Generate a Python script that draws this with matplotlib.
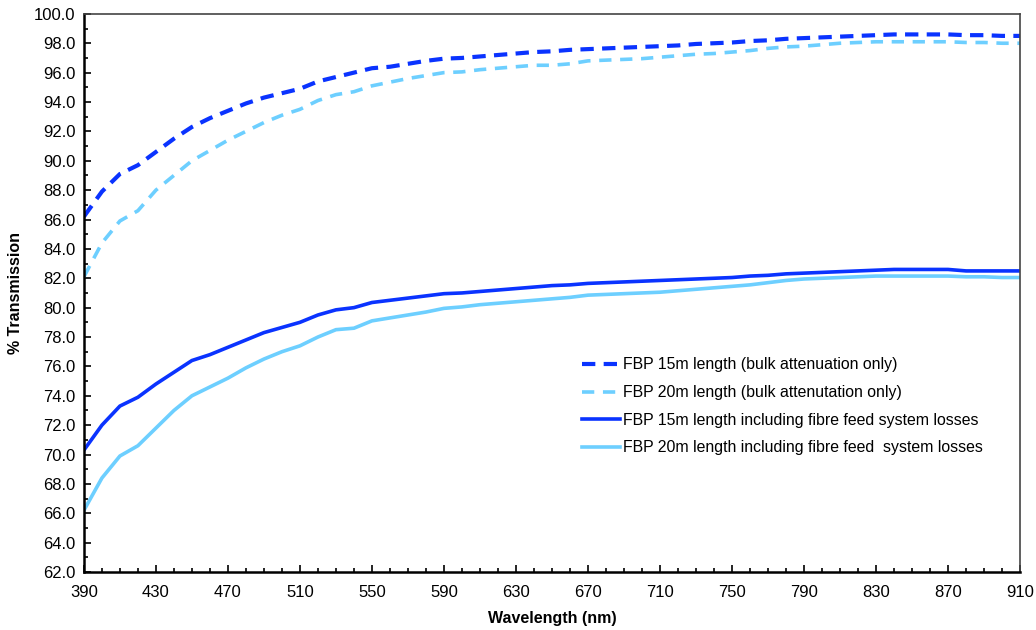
import numpy as np
import matplotlib
matplotlib.use('Agg')
import matplotlib.pyplot as plt
from matplotlib.ticker import MultipleLocator, FormatStrFormatter

plt.rcParams['font.family'] = ['Liberation Sans', 'DejaVu Sans']

wavelength = list(range(390, 911, 10))

# 15m, bulk attenuation only
bulk15 = [86.2, 87.9, 89.1, 89.7, 90.6, 91.5, 92.3, 92.9, 93.4, 93.9,
          94.3, 94.6, 94.9, 95.4, 95.7, 96.0, 96.3, 96.4, 96.6, 96.8,
          96.95, 97.0, 97.1, 97.2, 97.3, 97.4, 97.45, 97.55, 97.6, 97.65,
          97.7, 97.75, 97.8, 97.85, 97.95, 98.0, 98.05, 98.15, 98.2, 98.3,
          98.35, 98.4, 98.45, 98.5, 98.55, 98.6, 98.6, 98.6, 98.6, 98.55,
          98.55, 98.5, 98.5]
# 20m, bulk attenuation only
bulk20 = [82.1, 84.4, 85.9, 86.6, 88.0, 89.0, 90.0, 90.7, 91.4, 92.0,
          92.6, 93.1, 93.5, 94.1, 94.5, 94.7, 95.1, 95.35, 95.6, 95.8,
          96.0, 96.05, 96.2, 96.3, 96.4, 96.5, 96.5, 96.6, 96.8, 96.85,
          96.9, 96.95, 97.05, 97.15, 97.25, 97.3, 97.4, 97.5, 97.65, 97.75,
          97.8, 97.9, 98.0, 98.05, 98.1, 98.1, 98.1, 98.1, 98.1, 98.05,
          98.05, 98.0, 98.0]
# 15m incl. fibre feed system losses
feed15 = [70.3, 72.0, 73.3, 73.9, 74.8, 75.6, 76.4, 76.8, 77.3, 77.8,
          78.3, 78.65, 79.0, 79.5, 79.85, 80.0, 80.35, 80.5, 80.65, 80.8,
          80.95, 81.0, 81.1, 81.2, 81.3, 81.4, 81.5, 81.55, 81.65, 81.7,
          81.75, 81.8, 81.85, 81.9, 81.95, 82.0, 82.05, 82.15, 82.2, 82.3,
          82.35, 82.4, 82.45, 82.5, 82.55, 82.6, 82.6, 82.6, 82.6, 82.5,
          82.5, 82.5, 82.5]
# 20m incl. fibre feed system losses
feed20 = [66.2, 68.4, 69.9, 70.6, 71.8, 73.0, 74.0, 74.6, 75.2, 75.9,
          76.5, 77.0, 77.4, 78.0, 78.5, 78.6, 79.1, 79.3, 79.5, 79.7,
          79.95, 80.05, 80.2, 80.3, 80.4, 80.5, 80.6, 80.7, 80.85, 80.9,
          80.95, 81.0, 81.05, 81.15, 81.25, 81.35, 81.45, 81.55, 81.7, 81.85,
          81.95, 82.0, 82.05, 82.1, 82.15, 82.15, 82.15, 82.15, 82.15, 82.1,
          82.1, 82.05, 82.05]

labels = ['FBP 15m length (bulk attenuation only)',
          'FBP 20m length (bulk attenutation only)',
          'FBP 15m length including fibre feed system losses',
          'FBP 20m length including fibre feed  system losses']

xticks = list(range(390, 911, 40))

escuro = '#0a33ff'
claro = '#6dcfff'

fig = plt.figure(figsize=(10.36, 6.30), dpi=100)
ax = fig.add_axes([0.081, 0.092, 0.9036, 0.886])

ax.plot(wavelength, bulk15, color=escuro, lw=3.0, dashes=(3.2, 2.0), label=labels[0])
ax.plot(wavelength, bulk20, color=claro, lw=2.6, dashes=(3.4, 2.4), label=labels[1])
ax.plot(wavelength, feed15, color=escuro, lw=2.6, label=labels[2])
ax.plot(wavelength, feed20, color=claro, lw=2.6, label=labels[3])

ax.set_xlim(390, 910)
ax.set_ylim(62, 100)
ax.set_xticks(xticks)
ax.xaxis.set_minor_locator(MultipleLocator(10))
ax.yaxis.set_major_locator(MultipleLocator(2))
ax.yaxis.set_minor_locator(MultipleLocator(1))
ax.yaxis.set_major_formatter(FormatStrFormatter('%.1f'))

ax.tick_params(which='both', direction='in', top=False, right=False, labelsize=12, width=1.2)
ax.tick_params(which='major', length=5, pad=6)
ax.tick_params(axis='x', which='major', pad=9)
ax.tick_params(which='minor', length=3)

for lado in ['left', 'bottom']:
    ax.spines[lado].set_linewidth(1.8)
for lado in ['top', 'right']:
    ax.spines[lado].set_linewidth(1.2)
    ax.spines[lado].set_color('#444444')

ax.set_xlabel('Wavelength (nm)', fontsize=11.5, fontweight='bold', labelpad=8)
ax.set_ylabel('% Transmission', fontsize=11.5, fontweight='bold', labelpad=8)

ax.legend(loc='upper left', bbox_to_anchor=(0.517, 0.41), frameon=False,
          fontsize=11.4, handlelength=2.4, handletextpad=0.15, labelspacing=0.8)

fig.savefig('out.png', dpi=100)
